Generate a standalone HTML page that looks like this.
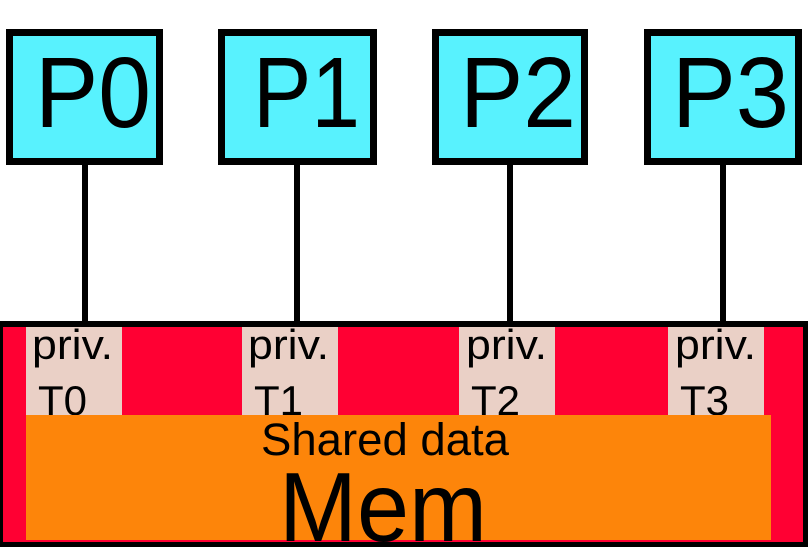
<!DOCTYPE html>
<html>
<head>
<meta charset="utf-8">
<style>
html,body{margin:0;padding:0;background:#fff;}
svg{display:block;}
text{font-family:"Liberation Sans",Arial,sans-serif;fill:#000;}
</style>
</head>
<body>
<svg width="808" height="547" viewBox="0 0 808 547" xmlns="http://www.w3.org/2000/svg">
  <rect x="0" y="0" width="808" height="547" fill="#fff"/>

  <!-- connectors -->
  <g stroke="#000" stroke-width="6">
    <line x1="85" y1="160" x2="85" y2="324"/>
    <line x1="297" y1="160" x2="297" y2="324"/>
    <line x1="510" y1="160" x2="510" y2="324"/>
    <line x1="723" y1="160" x2="723" y2="324"/>
  </g>

  <!-- processor boxes -->
  <g fill="#58F2FE" stroke="#000" stroke-width="7">
    <rect x="9.5" y="32.5" width="150" height="129"/>
    <rect x="221.5" y="32.5" width="152" height="129"/>
    <rect x="435.5" y="32.5" width="149" height="129"/>
    <rect x="647.5" y="32.5" width="151" height="129"/>
  </g>
  <g font-size="100">
    <text x="35" y="127" textLength="116" lengthAdjust="spacingAndGlyphs">P0</text>
    <text x="253" y="127" textLength="107" lengthAdjust="spacingAndGlyphs">P1</text>
    <text x="460" y="127" textLength="116" lengthAdjust="spacingAndGlyphs">P2</text>
    <text x="672" y="127" textLength="117" lengthAdjust="spacingAndGlyphs">P3</text>
  </g>

  <!-- memory -->
  <rect x="0" y="321" width="808" height="226" fill="#000"/>
  <rect x="3" y="327" width="800" height="215" fill="#FF0033"/>

  <g fill="#EAD0C6">
    <rect x="26" y="327" width="96" height="88"/>
    <rect x="242" y="327" width="96" height="88"/>
    <rect x="459" y="327" width="96" height="88"/>
    <rect x="668" y="327" width="96" height="88"/>
  </g>
  <g font-size="42">
    <text x="32" y="359" textLength="81" lengthAdjust="spacingAndGlyphs">priv.</text>
    <text x="38" y="415">T0</text>
    <text x="248" y="359" textLength="81" lengthAdjust="spacingAndGlyphs">priv.</text>
    <text x="254" y="415">T1</text>
    <text x="466" y="359" textLength="81" lengthAdjust="spacingAndGlyphs">priv.</text>
    <text x="471" y="415">T2</text>
    <text x="675" y="359" textLength="81" lengthAdjust="spacingAndGlyphs">priv.</text>
    <text x="680" y="415">T3</text>
  </g>

  <rect x="26" y="415" width="745" height="125" fill="#FD850A"/>
  <text x="261" y="455" font-size="45" textLength="248" lengthAdjust="spacingAndGlyphs">Shared data</text>
  <text x="279" y="541" font-size="98" textLength="208" lengthAdjust="spacingAndGlyphs">Mem</text>
</svg>
</body>
</html>
